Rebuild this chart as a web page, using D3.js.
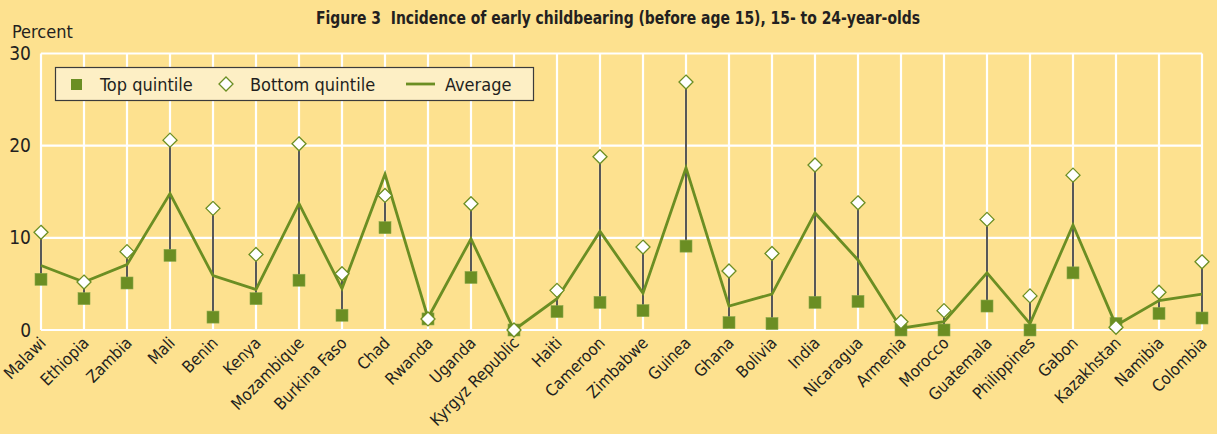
<!DOCTYPE html>
<html>
<head>
<meta charset="utf-8">
<script src="https://cdn.jsdelivr.net/npm/d3@7"></script>
<style>
  body { margin: 0; background: #fde18f; }
  svg text { font-family: "Liberation Sans Narrow", "DejaVu Sans Condensed", "Roboto Condensed", sans-serif; fill: #231f20; }
</style>
</head>
<body>
<div class="chart"></div>
<script>
// chart data
var countries = ["Malawi","Ethiopia","Zambia","Mali","Benin","Kenya","Mozambique","Burkina Faso","Chad","Rwanda",
  "Uganda","Kyrgyz Republic","Haiti","Cameroon","Zimbabwe","Guinea","Ghana","Bolivia","India","Nicaragua",
  "Armenia","Morocco","Guatemala","Philippines","Gabon","Kazakhstan","Namibia","Colombia"];
var topQuintile    = [5.5,3.4,5.1,8.1,1.4,3.4,5.4,1.6,11.1,1.2,5.7,0.0,2.0,3.0,2.1,9.1,0.8,0.7,3.0,3.1,0.0,0.0,2.6,0.0,6.2,0.7,1.8,1.3];
var bottomQuintile = [10.6,5.2,8.5,20.6,13.2,8.2,20.2,6.1,14.6,1.2,13.7,0.0,4.3,18.8,9.0,26.9,6.4,8.3,17.9,13.8,0.9,2.1,12.0,3.7,16.8,0.3,4.1,7.4];
var average        = [7.0,5.2,7.1,14.8,5.9,4.4,13.7,4.5,16.9,1.3,9.9,0.0,3.4,10.7,4.0,17.6,2.6,3.9,12.7,7.6,0.2,0.9,6.2,0.7,11.4,0.5,3.2,3.9];
var yTicks = [0, 10, 20, 30];

var W = 1217, H = 434;
var margin = {top: 53.5, right: 15, bottom: 104, left: 41};
var green = "#6b8e23";

var svg = d3.select(".chart").append("svg")
    .attr("width", W).attr("height", H);

svg.append("rect").attr("width", W).attr("height", H).attr("fill", "#fde18f");

var x = d3.scalePoint().domain(countries).range([margin.left, W - margin.right]);
var y = d3.scaleLinear().domain([0, 30]).range([H - margin.bottom, margin.top]);

// white grid
svg.selectAll(".hgrid").data(yTicks).enter().append("line")
    .attr("x1", margin.left).attr("x2", W - margin.right)
    .attr("y1", function(d) { return y(d); }).attr("y2", function(d) { return y(d); })
    .attr("stroke", "#fff").attr("stroke-width", 2.2);
svg.selectAll(".vgrid").data(countries).enter().append("line")
    .attr("x1", function(d) { return x(d); }).attr("x2", function(d) { return x(d); })
    .attr("y1", y(30)).attr("y2", y(0))
    .attr("stroke", "#fff").attr("stroke-width", 2.2);

// y tick labels
svg.selectAll(".ytick").data(yTicks).enter().append("text")
    .attr("x", 31).attr("y", function(d) { return y(d) + 6.5; })
    .attr("text-anchor", "end").attr("font-size", 19)
    .text(function(d) { return d; });

svg.append("text").attr("x", 12).attr("y", 38).attr("font-size", 18).text("Percent");

svg.append("text")
    .attr("x", 316).attr("y", 24)
    .attr("font-size", 17).attr("font-weight", "bold")
    .attr("textLength", 604).attr("lengthAdjust", "spacingAndGlyphs")
    .style("white-space", "pre")
    .text("Figure 3  Incidence of early childbearing (before age 15), 15- to 24-year-olds");

// x labels
svg.selectAll(".xlab").data(countries).enter().append("text")
    .attr("font-size", 16.5)
    .attr("text-anchor", "end")
    .attr("transform", function(d) { return "translate(" + (x(d) + 6) + "," + (y(0) + 14) + ") rotate(-45)"; })
    .text(function(d) { return d; });

var rows = countries.map(function(c, i) {
  return {c: c, top: topQuintile[i], bottom: bottomQuintile[i], avg: average[i]};
});

// stems
svg.selectAll(".stem").data(rows).enter().append("line")
    .attr("x1", function(d) { return x(d.c); }).attr("x2", function(d) { return x(d.c); })
    .attr("y1", function(d) { return y(d.top); }).attr("y2", function(d) { return y(d.bottom); })
    .attr("stroke", "#111").attr("stroke-width", 1.4);

// squares
svg.selectAll(".sq").data(rows).enter().append("rect")
    .attr("x", function(d) { return x(d.c) - 6; })
    .attr("y", function(d) { return y(d.top) - 6; })
    .attr("width", 12).attr("height", 12)
    .attr("fill", green).attr("stroke", "#8aa84a").attr("stroke-width", 0.6);

// average line
var line = d3.line().x(function(d) { return x(d.c); }).y(function(d) { return y(d.avg); });
svg.append("path").datum(rows)
    .attr("d", line).attr("fill", "none")
    .attr("stroke", green).attr("stroke-width", 2.8).attr("stroke-linejoin", "miter");

// diamonds
var diamond = "M0,-7L7,0L0,7L-7,0Z";
svg.selectAll(".dia").data(rows).enter().append("path")
    .attr("d", diamond)
    .attr("transform", function(d) { return "translate(" + x(d.c) + "," + y(d.bottom) + ")"; })
    .attr("fill", "#fff").attr("stroke", green).attr("stroke-width", 1.3);

// legend
var lg = svg.append("g");
lg.append("rect").attr("x", 55.5).attr("y", 67.5).attr("width", 478).attr("height", 33)
    .attr("fill", "#fdefc5").attr("stroke", "#3b3b3b").attr("stroke-width", 1.2);
lg.append("rect").attr("x", 71).attr("y", 79).attr("width", 11).attr("height", 11).attr("fill", green);
lg.append("text").attr("x", 100).attr("y", 91).attr("font-size", 18).text("Top quintile");
lg.append("path").attr("d", diamond).attr("transform", "translate(226,84)")
    .attr("fill", "#fff").attr("stroke", green).attr("stroke-width", 1.3);
lg.append("text").attr("x", 250).attr("y", 91).attr("font-size", 18).text("Bottom quintile");
lg.append("line").attr("x1", 406).attr("x2", 435).attr("y1", 84).attr("y2", 84)
    .attr("stroke", green).attr("stroke-width", 2.8);
lg.append("text").attr("x", 445).attr("y", 91).attr("font-size", 18).text("Average");
</script>
</body>
</html>
